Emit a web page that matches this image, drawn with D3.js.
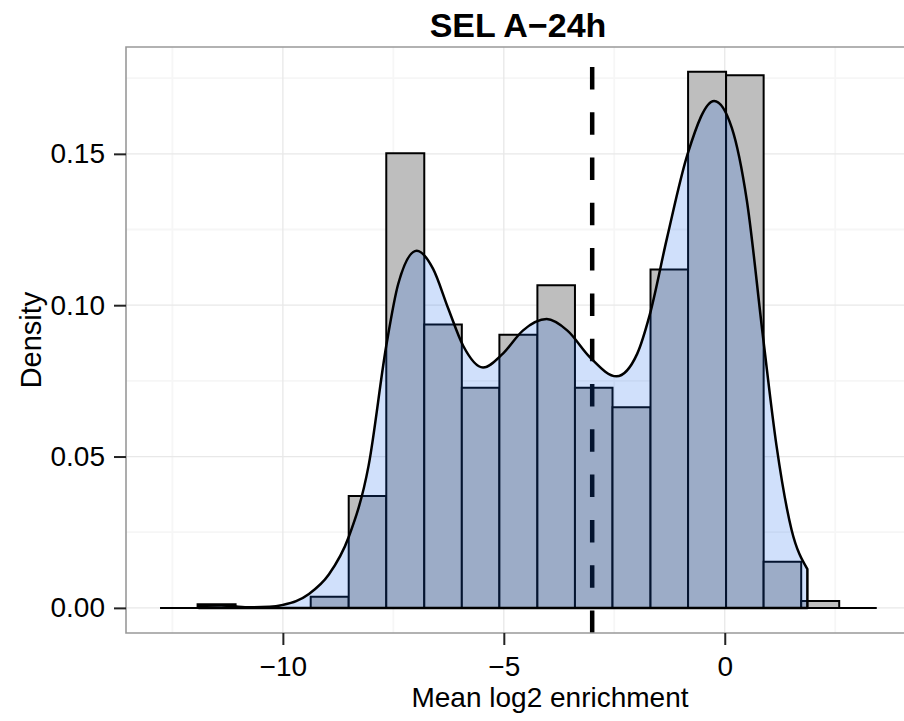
<!DOCTYPE html>
<html>
<head>
<meta charset="utf-8">
<script src="https://cdn.jsdelivr.net/npm/d3@7"></script>
<style>
body { margin: 0; background: #fff; }
text { font-family: "Liberation Sans", Arial, Helvetica, sans-serif; fill: #000; }
</style>
</head>
<body>
<div id="chart"></div>
<script>
// histogram bins (edges) and their density heights
var binEdges = [-12.78, -11.93, -11.07, -10.22, -9.37, -8.51, -7.66, -6.80, -5.95, -5.10,
                -4.24, -3.39, -2.54, -1.68, -0.83, 0.03, 0.88, 1.73, 2.59, 3.44];
var binDensity = [0, 0.0012, 0, 0, 0.0037, 0.0370, 0.1502, 0.0936, 0.0727, 0.0902,
                  0.1066, 0.0727, 0.0663, 0.1118, 0.1771, 0.1760, 0.0152, 0.0023, 0];

// kernel density curve
var densityX = [-11.9, -11.4, -10.8, -10.3, -10.0, -9.7, -9.41, -8.96, -8.51, -8.06, -7.66, -7.39,
                -6.97, -6.6, -6.26, -5.92, -5.47, -5.02, -4.57, -4.03, -3.56, -3.05, -2.45,
                -1.98, -1.70, -1.31, -0.84, -0.24, 0.16, 0.50, 0.87, 1.17, 1.51, 1.87];
var densityY = [0.0008, 0.0009, 0.0002, 0.0004, 0.0010, 0.0022, 0.0046, 0.0110, 0.0234, 0.0470, 0.0866, 0.1070,
                0.1180, 0.1120, 0.0990, 0.0866, 0.0794, 0.0840, 0.0916, 0.0954, 0.0916, 0.0828, 0.0765,
                0.0840, 0.0967, 0.1220, 0.1500, 0.1675, 0.1586, 0.1346, 0.0890, 0.0537, 0.0259, 0.0128];

var cutoff = -3;

var xTicks = [-10, -5, 0],
    xTickLabels = ["\u221210", "\u22125", "0"],
    xMinor = [-12.5, -7.5, -2.5, 2.5];
var yTicks = [0, 0.05, 0.10, 0.15],
    yTickLabels = ["0.00", "0.05", "0.10", "0.15"],
    yMinor = [0.025, 0.075, 0.125, 0.175];

var title = "SEL A\u221224h", xTitle = "Mean log2 enrichment", yTitle = "Density";

var width = 904, height = 721;
var panel = {left: 126, top: 47, right: 913, bottom: 633};

var svg = d3.select("#chart")
    .append("svg")
    .attr("width", width)
    .attr("height", height);

var x = d3.scaleLinear().domain([-13.55, 4.26]).range([panel.left, panel.right]);
var y = d3.scaleLinear().domain([-0.0083, 0.1853]).range([panel.bottom, panel.top]);

// panel background + grid
svg.append("rect")
    .attr("x", panel.left).attr("y", panel.top)
    .attr("width", panel.right - panel.left).attr("height", panel.bottom - panel.top)
    .attr("fill", "#fff");

var grid = svg.append("g");
grid.selectAll(".xminor").data(xMinor).enter().append("line")
    .attr("x1", d => x(d)).attr("x2", d => x(d))
    .attr("y1", panel.top).attr("y2", panel.bottom)
    .attr("stroke", "#f6f6f6").attr("stroke-width", 1.8);
grid.selectAll(".yminor").data(yMinor).enter().append("line")
    .attr("x1", panel.left).attr("x2", panel.right)
    .attr("y1", d => y(d)).attr("y2", d => y(d))
    .attr("stroke", "#f6f6f6").attr("stroke-width", 1.8);
grid.selectAll(".xmajor").data(xTicks).enter().append("line")
    .attr("x1", d => x(d)).attr("x2", d => x(d))
    .attr("y1", panel.top).attr("y2", panel.bottom)
    .attr("stroke", "#e8e8e8").attr("stroke-width", 1.3);
grid.selectAll(".ymajor").data(yTicks).enter().append("line")
    .attr("x1", panel.left).attr("x2", panel.right)
    .attr("y1", d => y(d)).attr("y2", d => y(d))
    .attr("stroke", "#e8e8e8").attr("stroke-width", 1.3);

// histogram (paths, so empty bins still draw their outline on the baseline)
var bins = binDensity.map((d, i) => ({x0: binEdges[i], x1: binEdges[i + 1], v: d}));
svg.append("g").selectAll("path")
    .data(bins)
    .enter()
    .append("path")
    .attr("d", d => "M" + x(d.x0) + "," + y(0) + "V" + y(d.v) + "H" + x(d.x1) + "V" + y(0) + "Z")
    .attr("fill", "#bebebe")
    .attr("stroke", "#000")
    .attr("stroke-width", 2)
    .attr("stroke-linejoin", "miter");

// cutoff line
svg.append("line")
    .attr("x1", x(cutoff)).attr("x2", x(cutoff))
    .attr("y1", panel.bottom).attr("y2", panel.top)
    .attr("stroke", "#000")
    .attr("stroke-width", 4.5)
    .attr("stroke-dasharray", "22.5,22.8");

// density
var dens = densityX.map((d, i) => ({x: d, y: densityY[i]}));
var area = d3.area()
    .x(d => x(d.x))
    .y0(y(0))
    .y1(d => y(d.y))
    .curve(d3.curveMonotoneX);

svg.append("path")
    .datum(dens)
    .attr("d", area)
    .attr("fill", "rgb(20,100,235)")
    .attr("fill-opacity", 0.2)
    .attr("stroke", "#000")
    .attr("stroke-width", 2.5)
    .attr("stroke-linejoin", "round");

// panel border
svg.append("path")
    .attr("d", "M" + panel.right + "," + panel.top + "H" + panel.left + "V" + panel.bottom + "H" + panel.right)
    .attr("fill", "none")
    .attr("stroke", "#999")
    .attr("stroke-width", 1.6);

// axes
var yAxis = svg.append("g")
    .attr("transform", "translate(" + panel.left + ",0)")
    .call(d3.axisLeft(y).tickValues(yTicks).tickFormat((d, i) => yTickLabels[i]).tickSize(12).tickPadding(9));
var xAxis = svg.append("g")
    .attr("transform", "translate(0," + panel.bottom + ")")
    .call(d3.axisBottom(x).tickValues(xTicks).tickFormat((d, i) => xTickLabels[i]).tickSize(12).tickPadding(11));

[xAxis, yAxis].forEach(function(a) {
    a.select(".domain").remove();
    a.selectAll(".tick line").attr("stroke", "#222").attr("stroke-width", 2);
    a.selectAll(".tick text").attr("font-size", 28).attr("font-family", "Liberation Sans, Arial, sans-serif").attr("fill", "#000");
});

// titles
svg.append("text")
    .attr("x", 518).attr("y", 36.5)
    .attr("text-anchor", "middle")
    .attr("font-size", 34).attr("font-weight", "bold")
    .text(title);

svg.append("text")
    .attr("x", 550).attr("y", 707)
    .attr("text-anchor", "middle")
    .attr("font-size", 28)
    .text(xTitle);

svg.append("text")
    .attr("transform", "translate(41,340)rotate(-90)")
    .attr("text-anchor", "middle")
    .attr("font-size", 29)
    .text(yTitle);
</script>
</body>
</html>
